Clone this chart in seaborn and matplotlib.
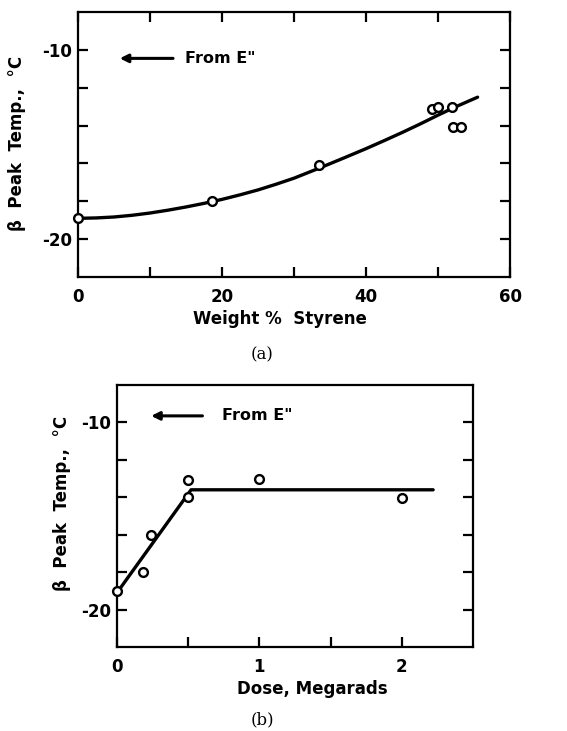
import matplotlib
matplotlib.use("Agg")
import matplotlib.pyplot as plt
import seaborn as sns
import pandas as pd

# ---------- data: panel (a) ----------
styrene_pts = [0, 18.6, 33.5, 49.2, 50.0, 51.9, 52.1, 53.2]
temp_a_pts = [-18.9, -18.0, -16.1, -13.1, -13.0, -13.0, -14.1, -14.1]
curve_a_x = [0, 2.5, 5, 7.5, 10, 12.5, 15, 17.5, 20, 22.5, 25, 27.5, 30, 33.5,
             37, 40, 42.5, 45, 47.5, 50, 52.5, 55.5]
curve_a_y = [-18.9, -18.88, -18.83, -18.74, -18.62, -18.47, -18.3, -18.11, -17.9,
             -17.66, -17.4, -17.1, -16.78, -16.25, -15.7, -15.22, -14.8, -14.37,
             -13.92, -13.45, -13.0, -12.5]

# ---------- data: panel (b) ----------
dose_pts = [0.0, 0.18, 0.24, 0.5, 0.5, 1.0, 2.0]
temp_b_pts = [-19.0, -18.0, -16.0, -13.1, -14.0, -13.0, -14.05]
line_b_x = [0.0, 0.52, 2.22]
line_b_y = [-19.1, -13.6, -13.6]

y_ticks = [-20, -18, -16, -14, -12, -10]
y_ticklabels = ["-20", "", "", "", "", "-10"]
xa_ticks = [0, 10, 20, 30, 40, 50, 60]
xa_ticklabels = ["0", "", "20", "", "40", "", "60"]
xb_ticks = [0, 0.5, 1, 1.5, 2]
xb_ticklabels = ["0", "", "1", "", "2"]

sns.set_style("ticks")
plt.rcParams["font.family"] = ["DejaVu Sans"]
plt.rcParams["font.weight"] = "bold"
for k in ["text.color", "axes.labelcolor", "xtick.color", "ytick.color", "axes.edgecolor"]:
    plt.rcParams[k] = "black"

W, H = 567, 731
fig = plt.figure(figsize=(W / 100, H / 100), dpi=100)
fig.patch.set_facecolor("white")


def px_axes(l, t, r, b):
    return fig.add_axes([l / W, 1 - b / H, (r - l) / W, (b - t) / H])


def style_axes(ax, top_ticks=True):
    for s in ax.spines.values():
        s.set_linewidth(1.6)
        s.set_color("black")
        s.set_visible(True)
    ax.tick_params(axis="both", which="both", direction="in", length=7, width=1.6,
                   colors="black", labelcolor="black", labelsize=12, right=True,
                   top=top_ticks)
    ax.tick_params(axis="x", pad=8)
    ax.tick_params(axis="y", pad=4)
    for lab in ax.get_xticklabels() + ax.get_yticklabels():
        lab.set_fontweight("bold")
    ax.set_facecolor("white")


# ---------- panel (a) ----------
ax1 = px_axes(78, 12, 510, 277)
df_a_line = pd.DataFrame({"x": curve_a_x, "y": curve_a_y})
df_a_pts = pd.DataFrame({"x": styrene_pts, "y": temp_a_pts})
sns.lineplot(data=df_a_line, x="x", y="y", ax=ax1, color="black", linewidth=2.4,
             sort=False, zorder=2)
sns.scatterplot(data=df_a_pts, x="x", y="y", ax=ax1, marker="o", s=40,
                facecolor="white", edgecolor="black", linewidth=1.7, zorder=3,
                clip_on=False)
ax1.set_xlim(0, 60)
ax1.set_ylim(-22, -8)
ax1.set_xticks(xa_ticks)
ax1.set_xticklabels(xa_ticklabels)
ax1.set_yticks(y_ticks)
ax1.set_yticklabels(y_ticklabels)
ax1.set_xlabel("")
ax1.set_ylabel("")
style_axes(ax1)
ax1.annotate("", xy=(5.8, -10.45), xytext=(13.2, -10.45),
             arrowprops=dict(arrowstyle="-|>", color="black", lw=2.2,
                             mutation_scale=12, shrinkA=0, shrinkB=0))
ax1.text(14.8, -10.45, "From E\"", fontsize=11.5, fontweight="bold", va="center", ha="left")
fig.text(280 / W, 1 - 319 / H, "Weight %  Styrene", fontsize=12, fontweight="bold",
         ha="center", va="center")
fig.text(17 / W, 1 - 143 / H, "β  Peak  Temp.,  °C", fontsize=12, fontweight="bold",
         ha="center", va="center", rotation=90)
fig.text(262 / W, 1 - 355 / H, "(a)", fontsize=12, family="DejaVu Serif",
         fontweight="normal", ha="center", va="center")

# ---------- panel (b) ----------
ax2 = px_axes(117, 385, 473, 647)
df_b_line = pd.DataFrame({"x": line_b_x, "y": line_b_y})
df_b_pts = pd.DataFrame({"x": dose_pts, "y": temp_b_pts})
sns.lineplot(data=df_b_line, x="x", y="y", ax=ax2, color="black", linewidth=2.4,
             sort=False, zorder=2)
sns.scatterplot(data=df_b_pts, x="x", y="y", ax=ax2, marker="o", s=40,
                facecolor="white", edgecolor="black", linewidth=1.7, zorder=3,
                clip_on=False)
ax2.set_xlim(0, 2.5)
ax2.set_ylim(-22, -8)
ax2.set_xticks(xb_ticks)
ax2.set_xticklabels(xb_ticklabels)
ax2.set_yticks(y_ticks)
ax2.set_yticklabels(y_ticklabels)
ax2.set_xlabel("")
ax2.set_ylabel("")
style_axes(ax2, top_ticks=False)
ax2.annotate("", xy=(0.24, -9.65), xytext=(0.6, -9.65),
             arrowprops=dict(arrowstyle="-|>", color="black", lw=2.2,
                             mutation_scale=12, shrinkA=0, shrinkB=0))
ax2.text(0.74, -9.65, "From E\"", fontsize=11.5, fontweight="bold", va="center", ha="left")
fig.text(312 / W, 1 - 689 / H, "Dose, Megarads", fontsize=12, fontweight="bold",
         ha="center", va="center")
fig.text(62 / W, 1 - 503 / H, "β  Peak  Temp.,  °C", fontsize=12, fontweight="bold",
         ha="center", va="center", rotation=90)
fig.text(262 / W, 1 - 720 / H, "(b)", fontsize=12, family="DejaVu Serif",
         fontweight="normal", ha="center", va="center")

fig.savefig("out.png", dpi=100, facecolor="white")
